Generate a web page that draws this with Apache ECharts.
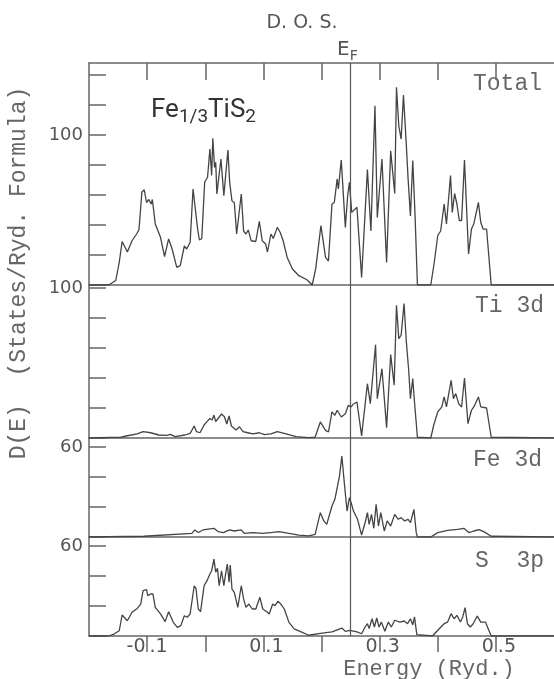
<!DOCTYPE html>
<html><head><meta charset="utf-8">
<script src="https://cdn.jsdelivr.net/npm/echarts@6/dist/echarts.min.js"></script>
<style>html,body{margin:0;padding:0;background:#fff}#c{width:554px;height:679px}</style>
</head><body><div id="c"></div>
<script>
// ---------- data ----------
const energyMin = -0.2, energyMax = 0.6, fermiEnergy = 0.25;
const energyTicks = [-0.1, 0, 0.1, 0.2, 0.3, 0.4, 0.5];
const energyLabels = [-0.1, 0.1, 0.3, 0.5];
const panelNames = ['Total', 'Ti 3d', 'Fe 3d', 'S  3p'];
const panelMax = [148, 102, 66, 66];
const panelTicks = [[0,20,40,60,80,100,120,140],[0,20,40,60,80,100],[0,20,40,60],[0,20,40,60]];
const panelTickLabels = [[100],[100],[60],[60]];

const totalDOS = [[-0.2,0],[-0.166,0],[-0.154,3],[-0.148,15],[-0.143,29],[-0.134,22],[-0.126,29.5],[-0.118,34],[-0.114,37],[-0.109,62],[-0.105,63.5],[-0.101,55],[-0.097,57],[-0.093,54],[-0.091,57],[-0.086,40.7],[-0.077,31.8],[-0.070,19],[-0.063,30.7],[-0.057,24],[-0.049,11.8],[-0.043,12.9],[-0.036,26],[-0.032,24],[-0.026,28.5],[-0.021,64],[-0.018,63],[-0.013,37],[-0.010,30],[-0.006,31],[-0.001,68.5],[0.004,72],[0.008,90.7],[0.011,73],[0.013,97.8],[0.016,78.4],[0.018,81.8],[0.020,60.7],[0.027,84],[0.032,59.5],[0.039,90],[0.042,68.5],[0.046,56],[0.050,55],[0.054,34],[0.062,60.7],[0.066,36],[0.070,34],[0.074,36.7],[0.079,29.5],[0.087,29],[0.093,42.4],[0.098,29.5],[0.104,27.3],[0.107,22],[0.113,34],[0.117,31],[0.124,38.4],[0.129,35],[0.134,29.5],[0.141,18.4],[0.150,10.7],[0.161,6.2],[0.175,3.5],[0.184,0],[0.190,10.7],[0.199,39.6],[0.207,18.4],[0.212,16],[0.218,54],[0.222,55],[0.227,70.7],[0.229,64],[0.234,83.3],[0.241,38.4],[0.245,59.5],[0.248,68.4],[0.252,48.4],[0.261,51.8],[0.269,5],[0.279,77],[0.285,36],[0.292,119.5],[0.296,45],[0.304,84],[0.312,15],[0.319,89.5],[0.326,61],[0.329,131.8],[0.333,106],[0.337,97.3],[0.341,126.7],[0.346,92.9],[0.349,70.7],[0.353,46],[0.357,83],[0.361,46],[0.365,0],[0.388,0],[0.394,15],[0.400,33],[0.405,36],[0.411,54],[0.415,40.7],[0.422,73],[0.425,48.4],[0.429,61],[0.433,54],[0.437,43],[0.441,43],[0.446,83.3],[0.453,20.7],[0.458,37.3],[0.462,40.7],[0.470,55],[0.474,41.8],[0.478,37.3],[0.484,37.3],[0.492,0],[0.6,0]];

const ti3d = [[-0.2,0],[-0.145,0.5],[-0.134,1.5],[-0.117,2.7],[-0.107,4.2],[-0.094,3.5],[-0.080,2],[-0.066,1.8],[-0.060,2.4],[-0.052,0.9],[-0.035,2],[-0.026,3.1],[-0.019,8],[-0.015,4.2],[-0.009,3.5],[-0.002,8.7],[0.003,10.9],[0.008,13],[0.012,12],[0.015,15.3],[0.018,10.9],[0.022,13],[0.028,16],[0.033,14.2],[0.037,9.3],[0.041,14.7],[0.045,8],[0.053,5.3],[0.059,7.5],[0.065,4.2],[0.073,3.5],[0.082,2.7],[0.093,3.5],[0.102,2.2],[0.113,2.7],[0.124,4.2],[0.139,2.7],[0.156,0.9],[0.178,0.3],[0.189,0.5],[0.198,10.7],[0.207,5.1],[0.212,4],[0.218,17.4],[0.223,15.1],[0.227,18.5],[0.234,14],[0.241,16.2],[0.246,21.7],[0.251,20.7],[0.255,22.7],[0.261,24],[0.269,1.4],[0.279,36.2],[0.284,22.9],[0.293,62.2],[0.296,26.2],[0.304,46.2],[0.312,6.9],[0.319,55.7],[0.325,35.2],[0.329,88.5],[0.333,66.2],[0.337,68.5],[0.342,89.7],[0.346,64],[0.350,45.2],[0.353,26.2],[0.357,39.6],[0.360,24],[0.365,0.5],[0.388,0],[0.393,8.5],[0.400,17.4],[0.407,20.7],[0.411,27.4],[0.415,20.7],[0.423,38.5],[0.427,26.2],[0.431,29.6],[0.436,22.9],[0.441,20.7],[0.446,40],[0.452,9.6],[0.458,18.5],[0.462,20.7],[0.470,27.4],[0.474,20.7],[0.484,20],[0.492,0.5],[0.6,0]];

const fe3d = [[-0.2,0],[-0.106,0.5],[-0.023,2.4],[-0.018,4.7],[-0.012,3],[-0.004,4.7],[0.005,5.3],[0.015,5.8],[0.022,3.6],[0.031,2.9],[0.042,4.7],[0.050,4],[0.062,4.7],[0.067,2.4],[0.082,2.9],[0.099,2.4],[0.116,3.1],[0.127,3.6],[0.144,2.4],[0.161,1.3],[0.178,0.8],[0.189,1.8],[0.198,16.2],[0.204,10.7],[0.209,8.4],[0.218,20.7],[0.223,25.1],[0.227,32.9],[0.231,40.7],[0.235,54],[0.240,32.9],[0.244,17.3],[0.248,26.2],[0.251,22.9],[0.255,17.3],[0.262,11.8],[0.269,1.3],[0.275,9.5],[0.279,16.2],[0.282,8.4],[0.286,15.1],[0.290,5.8],[0.294,21.8],[0.298,7.3],[0.302,16.2],[0.308,4],[0.313,10.7],[0.319,7.3],[0.326,15.1],[0.332,11.8],[0.337,12.9],[0.343,10.7],[0.349,11.8],[0.353,9.5],[0.359,18.4],[0.363,2.9],[0.365,0],[0.388,0],[0.400,2.9],[0.417,4.4],[0.434,5.1],[0.445,5.8],[0.448,7.1],[0.454,2.9],[0.462,4],[0.471,4.9],[0.479,3.6],[0.492,0.5],[0.6,0]];

const s3p = [[-0.2,0],[-0.166,0],[-0.157,1.3],[-0.148,3.5],[-0.143,14],[-0.134,10.2],[-0.126,15.8],[-0.117,18.4],[-0.111,21.3],[-0.107,30.2],[-0.101,30.9],[-0.099,26.9],[-0.094,28],[-0.090,28],[-0.086,19.1],[-0.077,14.7],[-0.069,9.6],[-0.063,16.2],[-0.055,9.1],[-0.048,5.8],[-0.042,6.9],[-0.036,13.5],[-0.031,12.5],[-0.026,14.7],[-0.019,33.5],[-0.016,31.8],[-0.012,18],[-0.008,16.2],[-0.002,33.5],[0.003,36.9],[0.008,41.3],[0.011,43.5],[0.015,51.3],[0.018,42.5],[0.021,45.1],[0.024,33.5],[0.028,43.5],[0.032,33.5],[0.035,41.3],[0.038,48],[0.041,35.8],[0.043,47.3],[0.046,31.3],[0.050,29.1],[0.056,19.1],[0.062,33.5],[0.066,24.7],[0.070,19.1],[0.075,21.3],[0.081,18],[0.087,18],[0.094,25.8],[0.099,18],[0.106,16.2],[0.110,14.7],[0.116,21.3],[0.120,20.2],[0.125,23.1],[0.130,21.3],[0.136,18],[0.144,9.1],[0.153,4.7],[0.164,2.9],[0.178,0.5],[0.198,1.8],[0.218,2.7],[0.235,5.3],[0.241,3.1],[0.249,3.8],[0.261,2.7],[0.269,1.5],[0.275,6],[0.279,8.2],[0.282,4.9],[0.287,11.5],[0.291,6],[0.295,12],[0.299,6],[0.303,9.3],[0.309,3.1],[0.315,9.3],[0.320,6],[0.326,10.5],[0.335,9.3],[0.342,10],[0.348,8.2],[0.353,11.5],[0.357,7.5],[0.360,12.7],[0.364,0.9],[0.391,0],[0.400,3.8],[0.411,8.2],[0.417,9.3],[0.423,14.9],[0.428,11.5],[0.433,13.8],[0.439,9.3],[0.443,12.7],[0.447,18.9],[0.451,8.2],[0.456,6],[0.461,8.2],[0.468,13.3],[0.474,9.3],[0.482,9.3],[0.492,0],[0.6,0]];

const panelData = [totalDOS, ti3d, fe3d, s3p];

// ---------- layout / style ----------
const gridTops = [63, 285, 438, 537];
const gridHeights = [222, 153, 99, 99];
const ink = '#555';
const lightInk = '#666';
const curveInk = '#444';
const frame = {color: '#666', width: 1.5};
const sansFont = '"DejaVu Sans", sans-serif';
const monoFont = '"Liberation Mono", "DejaVu Sans Mono", monospace';

const chart = echarts.init(document.getElementById('c'), null, {renderer: 'canvas'});

const grids = gridTops.map((t, i) => ({left: 89, width: 469, top: t, height: gridHeights[i]}));

const xAxes = gridTops.map((t, i) => {
  const last = i === gridTops.length - 1;
  return {
    type: 'value', gridIndex: i, min: energyMin, max: energyMax, interval: 0.1,
    axisLine: {show: true, onZero: false, lineStyle: frame},
    axisTick: {show: last, inside: false, length: 16, lineStyle: frame, customValues: energyTicks},
    axisLabel: last ? {
      show: true, margin: 2, customValues: energyLabels,
      formatter: v => {
        const r = Math.round(v * 10) / 10;
        const parts = r.toFixed(1).split('.');
        return (r < 0 ? '{n|' : '{p|') + parts[0] + '}{d|.' + parts[1] + '}';
      },
      rich: {
        n: {fontSize: 19, fontFamily: sansFont, color: ink, padding: [0, 4, 0, 0]},
        p: {fontSize: 19, fontFamily: sansFont, color: ink, padding: [0, 4, 0, 6]},
        d: {fontSize: 19, fontFamily: sansFont, color: ink}
      }
    } : {show: false},
    splitLine: {show: false}
  };
});
// top frame of the Total panel with inward ticks
xAxes.push({
  type: 'value', gridIndex: 0, position: 'top', min: energyMin, max: energyMax, interval: 0.1,
  axisLine: {show: true, onZero: false, lineStyle: frame},
  axisTick: {show: true, inside: true, length: 17, lineStyle: frame, customValues: energyTicks},
  axisLabel: {show: false}, splitLine: {show: false}
});

const yAxes = gridTops.map((t, i) => ({
  type: 'value', gridIndex: i, min: 0, max: panelMax[i], interval: 20,
  axisLine: {show: true, onZero: false, lineStyle: frame},
  axisTick: {show: true, inside: true, length: 17, lineStyle: frame, customValues: panelTicks[i]},
  axisLabel: {show: true, margin: 6, customValues: panelTickLabels[i], fontSize: 18, fontFamily: sansFont, color: ink},
  splitLine: {show: false}
}));

const series = panelData.map((d, i) => ({
  type: 'line', name: panelNames[i], xAxisIndex: i, yAxisIndex: i, data: d,
  symbol: 'none', showSymbol: false, clip: true,
  lineStyle: {color: curveInk, width: 1.3},
  markLine: {
    silent: true, symbol: 'none', label: {show: false},
    lineStyle: {color: '#555', width: 1.2, type: 'solid'},
    data: [{xAxis: fermiEnergy}]
  }
}));

const panelLabelY = [84, 306, 460, 561];
const panelLabelX = [473, 475, 473, 475];
const graphics = panelNames.map((n, i) => ({
  type: 'text', x: panelLabelX[i], y: panelLabelY[i],
  style: {text: n, font: '23px ' + monoFont, fill: lightInk, align: 'left', verticalAlign: 'middle'}
}));
graphics.push(
  {type: 'text', x: 302, y: 23, style: {text: 'D. O. S.', font: '19px ' + sansFont, fill: ink, align: 'center', verticalAlign: 'middle'}},
  {type: 'text', x: 337, y: 37, style: {text: '{e|E}{f|F}', align: 'left', verticalAlign: 'top',
     rich: {e: {fontSize: 20, fontFamily: sansFont, fill: ink, color: ink}, f: {fontSize: 14, fontFamily: sansFont, fill: ink, color: ink, padding: [12, 0, 0, 0]}}}},
  {type: 'text', x: 151, y: 93, style: {text: '{n|Fe}{s|1/3}{n|TiS}{s|2}', align: 'left', verticalAlign: 'top',
     rich: {n: {fontSize: 26, fontFamily: 'Roboto, sans-serif', fill: '#333', color: '#333'}, s: {fontSize: 19, fontFamily: 'Roboto, sans-serif', fill: '#333', color: '#333', padding: [15, 0, 0, 0]}}}},
  {type: 'text', x: 429, y: 669, style: {text: 'Energy (Ryd.)', font: '22px ' + monoFont, fill: lightInk, align: 'center', verticalAlign: 'middle'}},
  {type: 'text', x: 19, y: 273, rotation: Math.PI / 2, style: {text: 'D(E)  (States/Ryd. Formula)', font: '23px ' + monoFont, fill: lightInk, align: 'center', verticalAlign: 'middle'}}
);

chart.setOption({
  backgroundColor: '#fff',
  animation: false,
  grid: grids,
  xAxis: xAxes,
  yAxis: yAxes,
  series: series,
  graphic: graphics
});
</script></body></html>
